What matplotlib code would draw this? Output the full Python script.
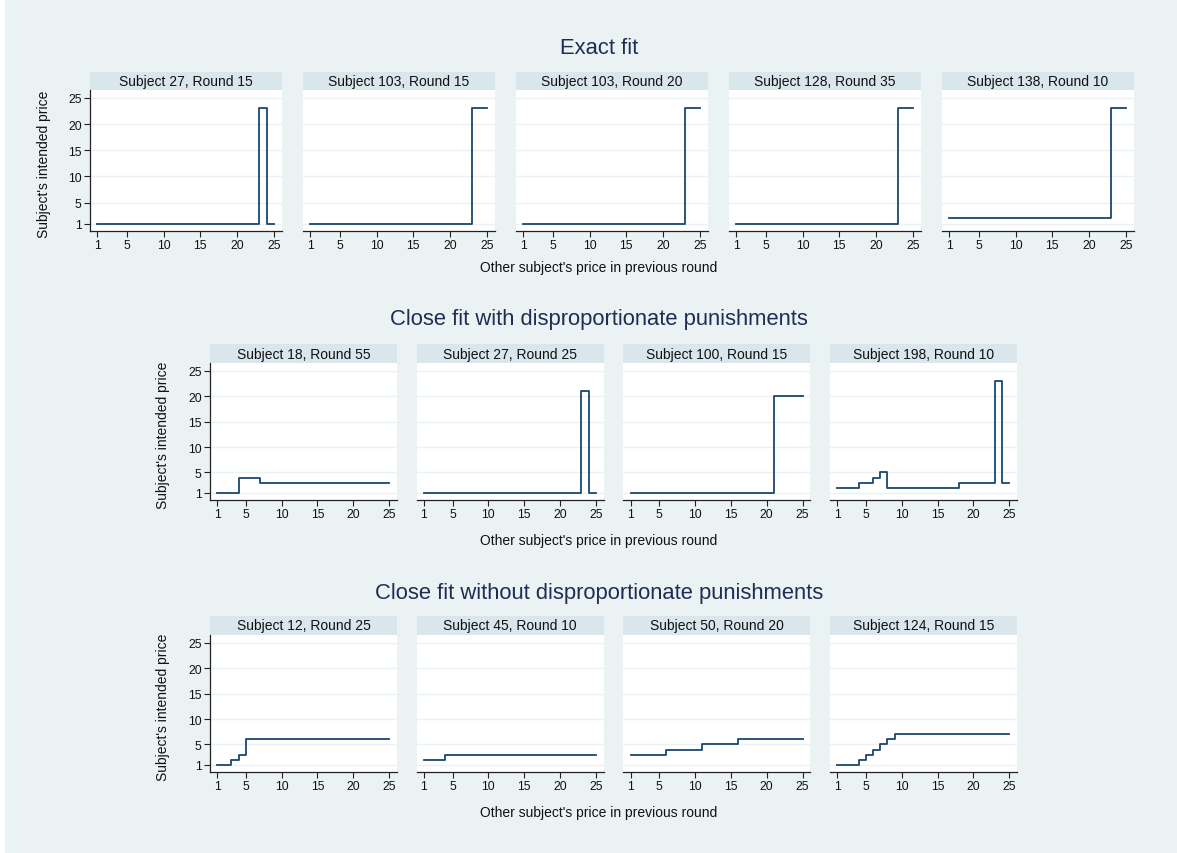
import numpy as np
import matplotlib
matplotlib.use("Agg")
import matplotlib.pyplot as plt
from matplotlib.patches import Rectangle

plt.rcParams['font.family'] = ['Liberation Sans', 'DejaVu Sans']

# step functions: x where the price changes, y = intended price from that x on
exact_titles = ["Subject 27, Round 15", "Subject 103, Round 15", "Subject 103, Round 20",
                "Subject 128, Round 35", "Subject 138, Round 10"]
exact_x = [[1, 23, 24, 25], [1, 23, 25], [1, 23, 25], [1, 23, 25], [1, 23, 25]]
exact_y = [[1, 23, 1, 1], [1, 23, 23], [1, 23, 23], [1, 23, 23], [2, 23, 23]]

dispro_titles = ["Subject 18, Round 55", "Subject 27, Round 25", "Subject 100, Round 15",
                 "Subject 198, Round 10"]
dispro_x = [[1, 4, 7, 25], [1, 23, 24, 25], [1, 21, 25], [1, 4, 6, 7, 8, 18, 23, 24, 25]]
dispro_y = [[1, 4, 3, 3], [1, 21, 1, 1], [1, 20, 20], [2, 3, 4, 5, 2, 3, 23, 3, 3]]

nodispro_titles = ["Subject 12, Round 25", "Subject 45, Round 10", "Subject 50, Round 20",
                   "Subject 124, Round 15"]
nodispro_x = [[1, 3, 4, 5, 25], [1, 4, 25], [1, 6, 11, 16, 25], [1, 4, 5, 6, 7, 8, 9, 25]]
nodispro_y = [[1, 2, 3, 6, 6], [2, 3, 3], [3, 4, 5, 6, 6], [1, 2, 3, 4, 5, 6, 7, 7]]

row_titles = ["Exact fit", "Close fit with disproportionate punishments",
              "Close fit without disproportionate punishments"]
xticks = [1, 5, 10, 15, 20, 25]
yticks = [1, 5, 10, 15, 20, 25]

W, H = 1177, 854
BG = '#eaf2f3'
STRIP = '#d9e6eb'
LINE = '#1a476f'
NAVY = '#1e2d55'

fig = plt.figure(figsize=(W / 100, H / 100), dpi=100)
fig.patch.set_facecolor('white')
fig.patches.append(Rectangle((5 / W, 0), 1 - 5 / W, 1 - 1 / H, transform=fig.transFigure,
                             facecolor=BG, edgecolor='none', zorder=-10))

# (left px, spacing px, width px, strip top, plot top, plot bottom, title y, xlabel y, ylabel x)
rows = [
    (90, 213, 192, 73, 91, 232, 48, 268, 44, exact_titles, exact_x, exact_y),
    (210, 206.7, 187, 345, 364, 501, 320, 541, 163, dispro_titles, dispro_x, dispro_y),
    (210, 206.7, 187, 617, 636, 773, 593, 813, 163, nodispro_titles, nodispro_x, nodispro_y),
]

for r, (left, step, width, strip_top, top, bottom, ty, xly, ylx, titles, xs, ys) in enumerate(rows):
    for i, (t, x, y) in enumerate(zip(titles, xs, ys)):
        x0 = left + i * step
        ax = fig.add_axes([x0 / W, 1 - bottom / H, width / W, (bottom - top) / H])
        ax.set_facecolor('white')
        ax.plot(x, y, drawstyle='steps-post', color=LINE, lw=1.3, zorder=3)
        ax.set_xlim(0, 26.1)
        ax.set_ylim(-0.4, 26.5)
        ax.set_xticks(xticks)
        ax.set_yticks(yticks)
        ax.grid(axis='y', color=BG, lw=1.0)
        ax.set_axisbelow(True)
        for s in ['top', 'right']:
            ax.spines[s].set_visible(False)
        ax.spines['bottom'].set_color('#222222')
        ax.spines['bottom'].set_linewidth(0.9)
        ax.tick_params(axis='x', length=4, width=0.8, color='#222222', labelsize=8.7,
                       pad=2, labelcolor='#111111')
        if i == 0:
            ax.spines['left'].set_color('#222222')
            ax.spines['left'].set_linewidth(0.9)
            ax.tick_params(axis='y', length=4, width=0.8, color='#222222', labelsize=8.7,
                           pad=2, labelcolor='#111111')
        else:
            ax.spines['left'].set_visible(False)
            ax.tick_params(axis='y', length=0, labelleft=False)
        sh = (top - strip_top) / (bottom - top)
        ax.add_patch(Rectangle((0, 1), 1, sh, transform=ax.transAxes, facecolor=STRIP,
                               edgecolor='none', clip_on=False))
        ax.text(0.5, 1 + sh / 2, t, transform=ax.transAxes, ha='center', va='center',
                fontsize=10, color='#111111')
    fig.text(599 / W, 1 - ty / H, row_titles[r], ha='center', va='center',
             fontsize=15.8, color=NAVY)
    fig.text(599 / W, 1 - xly / H, "Other subject's price in previous round",
             ha='center', va='center', fontsize=10, color='#111111')
    fig.text(ylx / W, 1 - ((top + bottom) / 2 + 3) / H, "Subject's intended price",
             ha='center', va='center', rotation=90, fontsize=10, color='#111111')

fig.savefig('out.png', dpi=100, facecolor=fig.get_facecolor())
